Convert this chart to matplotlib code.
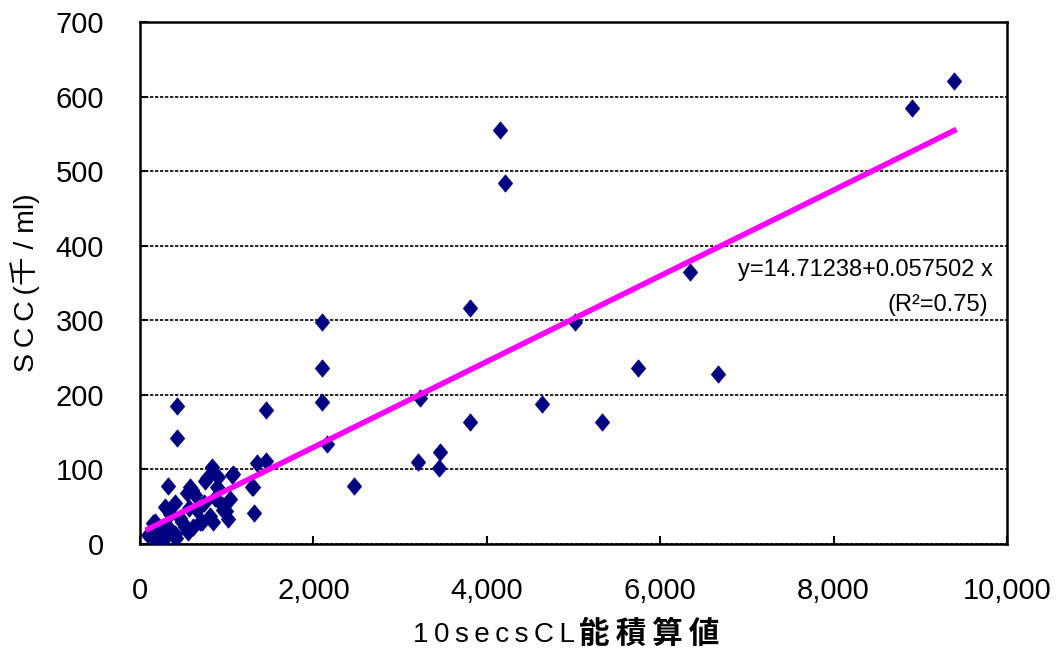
import matplotlib.pyplot as plt

plt.rcParams['font.family'] = ['Liberation Sans', 'Noto Sans CJK JP', 'DejaVu Sans']

# data
cl_x = [8904, 9389, 4152, 4210, 6344, 5017, 3806, 5744, 6667, 4637,
        5329, 3806, 3229, 3460, 3449, 3206, 2468, 2099, 2099, 2099,
        2157, 1453, 1453, 1349, 1292, 1315, 427, 427,
        834, 1057, 903, 769, 327, 596, 538, 288, 404, 942,
        1019, 692, 807, 519, 154, 96, 173, 269, 404,
        1077, 577, 750, 884, 634, 1307, 961, 480, 711, 846,
        173, 327, 557, 135, 250, 384, 615, 1040, 660, 870,
        350, 460, 300, 220, 740, 990, 560, 420]
scc_y = [585, 621, 555, 484, 365, 298, 316, 236, 228, 188,
         164, 164, 196, 123, 102, 110, 78, 298, 236, 190,
         134, 180, 111, 109, 76, 42, 185, 142,
         103, 92, 90, 88, 78, 72, 68, 50, 55, 52,
         34, 30, 37, 23, 28, 12, 8, 5, 14,
         94, 77, 84, 77, 66, 77, 46, 30, 30, 30,
         30, 23, 16, 12, 3, 12, 23, 60, 45, 62,
         40, 35, 18, 20, 55, 44, 48, 8]

a, b = 14.71238, 0.057502
fit_x = [92, 9389]
fit_y = [a + b * v for v in fit_x]

fig = plt.figure(figsize=(10.61, 6.55), dpi=100)
ax = fig.add_axes([0.132, 0.1695, 0.817, 0.7965])

# slightly tall diamond like the original marker
diamond = [(0, 1), (0.83, 0), (0, -1), (-0.83, 0), (0, 1)]
ax.plot(cl_x, scc_y, linestyle='none', marker=diamond, color='#000080',
        ms=12.5, mec='#000080', mew=0.5, zorder=3)
ax.plot(fit_x, fit_y, color='#ff00ff', lw=4, zorder=4)

ax.set_xlim(0, 10000)
ax.set_ylim(0, 700)
ax.set_xticks(range(0, 10001, 2000))
ax.set_xticklabels(['0', '2,000', '4,000', '6,000', '8,000', '10,000'])
ax.set_yticks(range(0, 701, 100))
ax.tick_params(direction='in', labelsize=21, length=6, width=1.5)
ax.tick_params(axis='x', pad=24)
ax.tick_params(axis='y', pad=26)
ax.grid(axis='y', color='black', linestyle=(0, (2, 1)), linewidth=1.2)
for s in ax.spines.values():
    s.set_linewidth(1.8)

ts = '\u2009'
# x label: latin part normal, kanji part bold
ax.text(0.502, -0.174, ts.join('10secsCL'), transform=ax.transAxes,
        fontsize=20, ha='right', va='center')
ax.text(0.506, -0.174, ts.join('能積算値'), transform=ax.transAxes,
        fontsize=22, fontweight='bold', ha='left', va='center')
ax.set_ylabel(ts.join('SCC(') + '千 / ' + 'ml)', fontsize=20.5, labelpad=11)

ax.text(9838, 367, 'y=14.71238+0.057502 x', fontsize=17, ha='right', va='center')
ax.text(9780, 320, '(R²=0.75)', fontsize=17, ha='right', va='center')

fig.savefig('out.png', dpi=100)
